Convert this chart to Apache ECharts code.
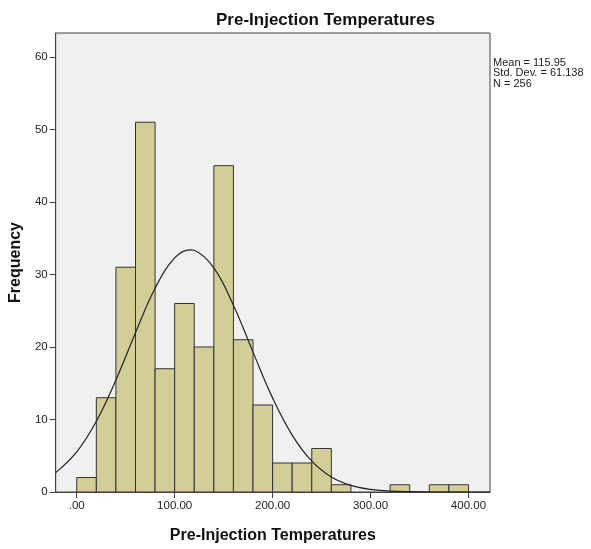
<!DOCTYPE html>
<html>
<head>
<meta charset="utf-8" />
<title>Pre-Injection Temperatures</title>
<script src="https://cdn.jsdelivr.net/npm/echarts@6/dist/echarts.min.js"></script>
</head>
<body style="margin:0;background:#fff;">
<div id="main" style="width:591px;height:549px;"></div>
<script type="text/javascript">
/* histogram bins (width 20) */
var binStarts = [0, 20, 40, 60, 80, 100, 120, 140, 160, 180, 200, 220, 240, 260, 280, 300, 320, 340, 360, 380];
var binCounts = [2, 13, 31, 51, 17, 26, 20, 45, 21, 12, 4, 4, 6, 1, 0, 0, 1, 0, 1, 1];
var binWidth = 20;

/* normal curve */
var curveX = [-21.5, 0, 20, 40, 60, 80, 100, 116, 120, 140, 160, 180, 200, 220, 240, 260, 280, 300, 320, 340, 360, 380, 400, 422];
var curveY = [2.67, 5.53, 9.75, 15.44, 21.97, 28.1, 32.28, 33.4, 33.33, 30.91, 25.76, 19.29, 12.98, 7.85, 4.26, 2.08, 0.91, 0.36, 0.13, 0.04, 0.01, 0, 0, 0];

var xTicks = [0, 100, 200, 300, 400];
var yTicks = [0, 10, 20, 30, 40, 50, 60];
var statLines = ['Mean = 115.95', 'Std. Dev. = 61.138', 'N = 256'];

var font = '"Liberation Sans", Arial, sans-serif';

var bars = [];
for (var i = 0; i < binStarts.length; i++) {
    if (binCounts[i] > 0) bars.push([binStarts[i], binStarts[i] + binWidth, binCounts[i]]);
}
var curve = curveX.map(function (x, i) { return [x, curveY[i]]; });

var chart = echarts.init(document.getElementById('main'));
var option = {
    backgroundColor: '#ffffff',
    animation: false,
    title: {
        text: 'Pre-Injection Temperatures',
        left: 211,
        top: 7,
        textStyle: { fontFamily: font, fontSize: 17, fontWeight: 'bold', color: '#111' }
    },
    graphic: [{
        type: 'text',
        left: 493,
        top: 57,
        style: {
            text: statLines.join('\n'),
            font: '11px ' + font,
            fill: '#222',
            lineHeight: 10.5
        }
    }],
    grid: {
        left: 53, right: 101, top: 33, bottom: 53,
        show: true,
        backgroundColor: '#f0f0f0',
        borderColor: '#444',
        borderWidth: 1
    },
    xAxis: {
        type: 'value',
        min: -21.5,
        max: 422,
        name: 'Pre-Injection Temperatures',
        nameLocation: 'middle',
        nameGap: 36,
        nameTextStyle: { fontFamily: font, fontSize: 16, fontWeight: 'bold', color: '#111' },
        axisLine: { show: true, onZero: false, lineStyle: { color: '#444', width: 1 } },
        axisTick: { show: true, customValues: xTicks, length: 6, lineStyle: { color: '#444' } },
        axisLabel: {
            customValues: xTicks,
            margin: 8,
            fontFamily: font, fontSize: 11.5, color: '#222',
            formatter: function (v) { return v === 0 ? '.00' : v.toFixed(2); }
        },
        splitLine: { show: false }
    },
    yAxis: {
        type: 'value',
        min: 0,
        max: 63.3,
        name: 'Frequency',
        nameLocation: 'middle',
        nameGap: 30,
        nameTextStyle: { fontFamily: font, fontSize: 16, fontWeight: 'bold', color: '#111' },
        axisLine: { show: true, onZero: false, lineStyle: { color: '#444', width: 1 } },
        axisTick: { show: true, customValues: yTicks, length: 6, lineStyle: { color: '#444' } },
        axisLabel: { customValues: yTicks, margin: 8, fontFamily: font, fontSize: 11.5, color: '#222' },
        splitLine: { show: false }
    },
    series: [{
        type: 'custom',
        data: bars,
        clip: true,
        renderItem: function (params, api) {
            var p0 = api.coord([api.value(0), api.value(2)]);
            var p1 = api.coord([api.value(1), 0]);
            return {
                type: 'rect',
                shape: { x: p0[0], y: p0[1], width: p1[0] - p0[0], height: p1[1] - p0[1] },
                style: { fill: '#d3ce98', stroke: '#333', lineWidth: 1 }
            };
        }
    }, {
        type: 'line',
        data: curve,
        smooth: 0.4,
        showSymbol: false,
        clip: true,
        lineStyle: { color: '#222', width: 1.2 },
        z: 5
    }]
};
chart.setOption(option);
window.onresize = chart.resize;
</script>
</body>
</html>
